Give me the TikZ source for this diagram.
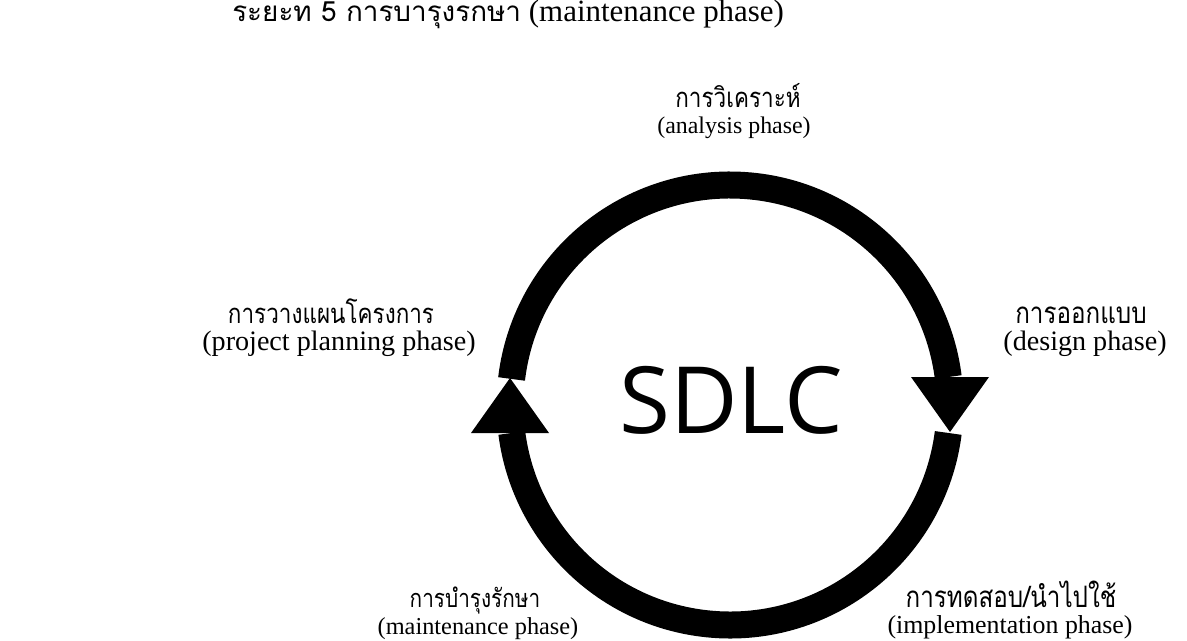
\documentclass[tikz,border=0pt]{standalone}
\usepackage{fontspec}
\setmainfont{Liberation Serif}
\newfontfamily\thaifont[Script=Thai,FakeStretch=0.82]{Loma}
\newfontfamily\thaiwide[Script=Thai]{Loma}
\newfontfamily\sdlcfont{Open Sans}
\usetikzlibrary{calc}

\begin{document}
\begin{tikzpicture}[x=0.025cm,y=0.025cm,
  ring/.style={line width=19.2pt,black},
  phase/.style={anchor=base,inner sep=0pt,font=\fontsize{#1}{#1}\selectfont},
  thai/.style={anchor=base,inner sep=0pt,font=\thaifont\fontsize{#1}{#1}\selectfont}]

\useasboundingbox (0,0) rectangle (1187,640);

\coordinate (C) at (730,235);

% Title line
\node[anchor=base west,inner sep=0pt,font=\fontsize{22}{24}\selectfont] (title) at (232,618)
  {{\thaiwide\fontsize{19.8}{24}\selectfont ระยะท 5 การบารุงรกษา} (maintenance phase)};

% Define the upper and lower halves of the ring
\draw[ring] ($(C)+(173.2:220)$) arc[start angle=173.2,end angle=7.3,radius=220];
\draw[ring] ($(C)+(-7.3:220)$) arc[start angle=-7.3,end angle=-172.7,radius=220];

% Arrow heads
\fill (471,207) -- (549,207) -- (510,262) -- cycle;
\fill (911,263) -- (989,263) -- (950,208) -- cycle;

\node[font=\sdlcfont\fontsize{66}{70}\selectfont,inner sep=0pt] (sdlc) at (731,240) {SDLC};

% Phase labels, Thai line over English line
\node[thai=19.5] (analysisTh) at (738,532) {การวิเคราะห์};
\node[phase=17] (analysisEn) at (734,506) {(analysis phase)};

\node[thai=19.5] (planningTh) at (331,317) {การวางแผนโครงการ};
\node[phase=20] (planningEn) at (339,290) {(project planning phase)};

\node[thai=21] (designTh) at (1081,317) {การออกแบบ};
\node[phase=20] (designEn) at (1085,290) {(design phase)};

\node[thai=18] (maintenanceTh) at (475,33) {การบำรุงรักษา};
\node[phase=17.3] (maintenanceEn) at (478,6) {(maintenance phase)};

\node[thai=21] (implementationTh) at (1011,33) {การทดสอบ/นำไปใช้};
\node[phase=18.4] (implementationEn) at (1010,7) {(implementation phase)};

\end{tikzpicture}
\end{document}
